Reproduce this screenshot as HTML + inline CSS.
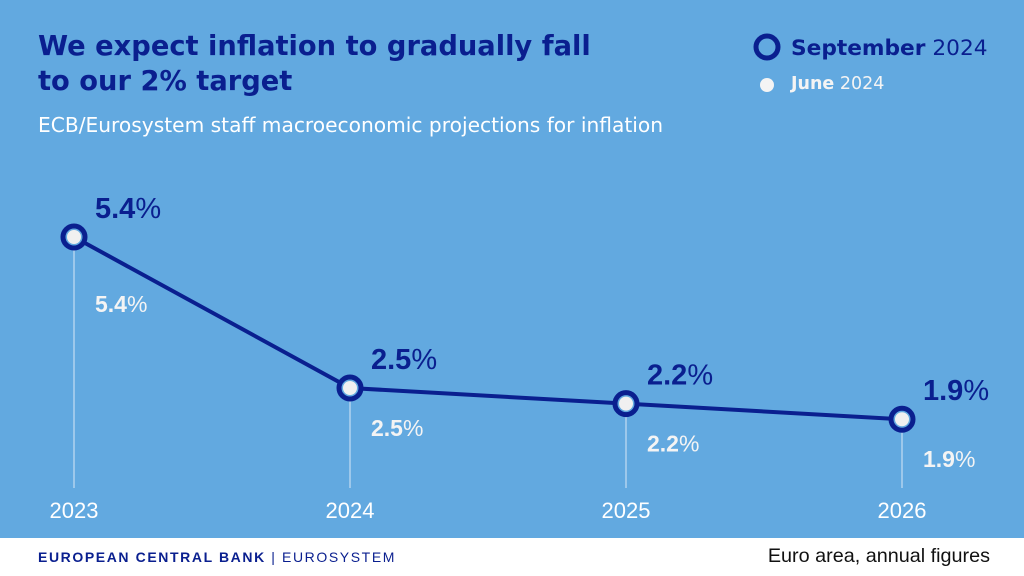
<!DOCTYPE html>
<html><head><meta charset="utf-8"><style>
body{margin:0;width:1024px;height:576px;overflow:hidden;font-family:"Liberation Sans","DejaVu Sans",sans-serif}
#bg{position:absolute;left:0;top:0;width:1024px;height:538px;background:#62a9e0}
#foot{position:absolute;left:0;top:538px;width:1024px;height:38px;background:#fff}
.t{position:absolute;white-space:nowrap}
.dj{font-family:"DejaVu Sans",sans-serif}
</style></head><body>
<div id="bg"></div>
<div class="t dj" style="left:38px;top:29px;font-size:27.3px;font-weight:bold;color:#0a1f8f;line-height:35px">We expect inflation to gradually fall<br>to our 2% target</div>
<div class="t dj" style="left:38px;top:113px;font-size:20.2px;color:#fff">ECB/Eurosystem staff macroeconomic projections for inflation</div>
<svg width="1024" height="576" style="position:absolute;left:0;top:0">
<g font-family="DejaVu Sans, sans-serif">
<circle cx="767" cy="47" r="11" fill="none" stroke="#0a1f8f" stroke-width="5"/>
<text x="791" y="55" font-size="21.7" fill="#0a1f8f"><tspan font-weight="bold">September</tspan> 2024</text>
<circle cx="767" cy="85" r="7" fill="#f4f4f4"/>
<text x="791" y="89" font-size="17.5" fill="#f4f4f4"><tspan font-weight="bold">June</tspan> 2024</text>
</g>
<g id="plot"></g>
</svg>
<div id="foot"></div>
<div class="t" style="left:38px;top:549px;font-size:14px;color:#0a1f8f;letter-spacing:1.6px"><b>EUROPEAN CENTRAL BANK</b> | EUROSYSTEM</div>
<div class="t" style="right:34px;top:545px;font-size:19.8px;color:#111">Euro area, annual figures</div>
<script>
const years=["2023","2024","2025","2026"];
const september=[5.4,2.5,2.2,1.9];
const june=[5.4,2.5,2.2,1.9];
const NS="http://www.w3.org/2000/svg";
const g=document.getElementById('plot');
function x(i){return 74+i*276;}
function y(v){return 237+(5.4-v)*52.07;}
function mk(t,a){const e=document.createElementNS(NS,t);for(const k in a)e.setAttribute(k,a[k]);g.appendChild(e);return e;}
years.forEach((yr,i)=>{
 const l=mk('line',{x1:x(i),x2:x(i),y1:y(september[i]),y2:488,stroke:'#d8e8f6','stroke-width':1});
 
 
 const t=mk('text',{x:x(i),y:518,'text-anchor':'middle','font-size':22,fill:'#fff'});
 t.textContent=yr;
 
 
});
const pts=september.map((v,i)=>x(i)+','+y(v)).join(' ');
const pl=mk('polyline',{points:pts,fill:'none',stroke:'#0a1f8f','stroke-width':4});


years.forEach((yr,i)=>{
 const c=mk('circle',{cx:x(i),cy:y(september[i]),r:11,fill:'#62a9e0',stroke:'#0a1f8f','stroke-width':5});
 
 
 const d=mk('circle',{cx:x(i),cy:y(june[i]),r:7,fill:'#f0f0f0'});
 
 
 const s=mk('text',{x:x(i)+21,y:y(september[i])-19,'font-size':29,fill:'#0a1f8f'});
 s.innerHTML='<tspan font-weight="bold">'+september[i].toFixed(1)+'</tspan>%';
 
 
 const j=mk('text',{x:x(i)+21,y:y(june[i])+(i==0?75:48),'font-size':23,fill:'#f4f4f4'});
 j.innerHTML='<tspan font-weight="bold">'+june[i].toFixed(1)+'</tspan>%';
 
 
});
</script>
</body></html>
